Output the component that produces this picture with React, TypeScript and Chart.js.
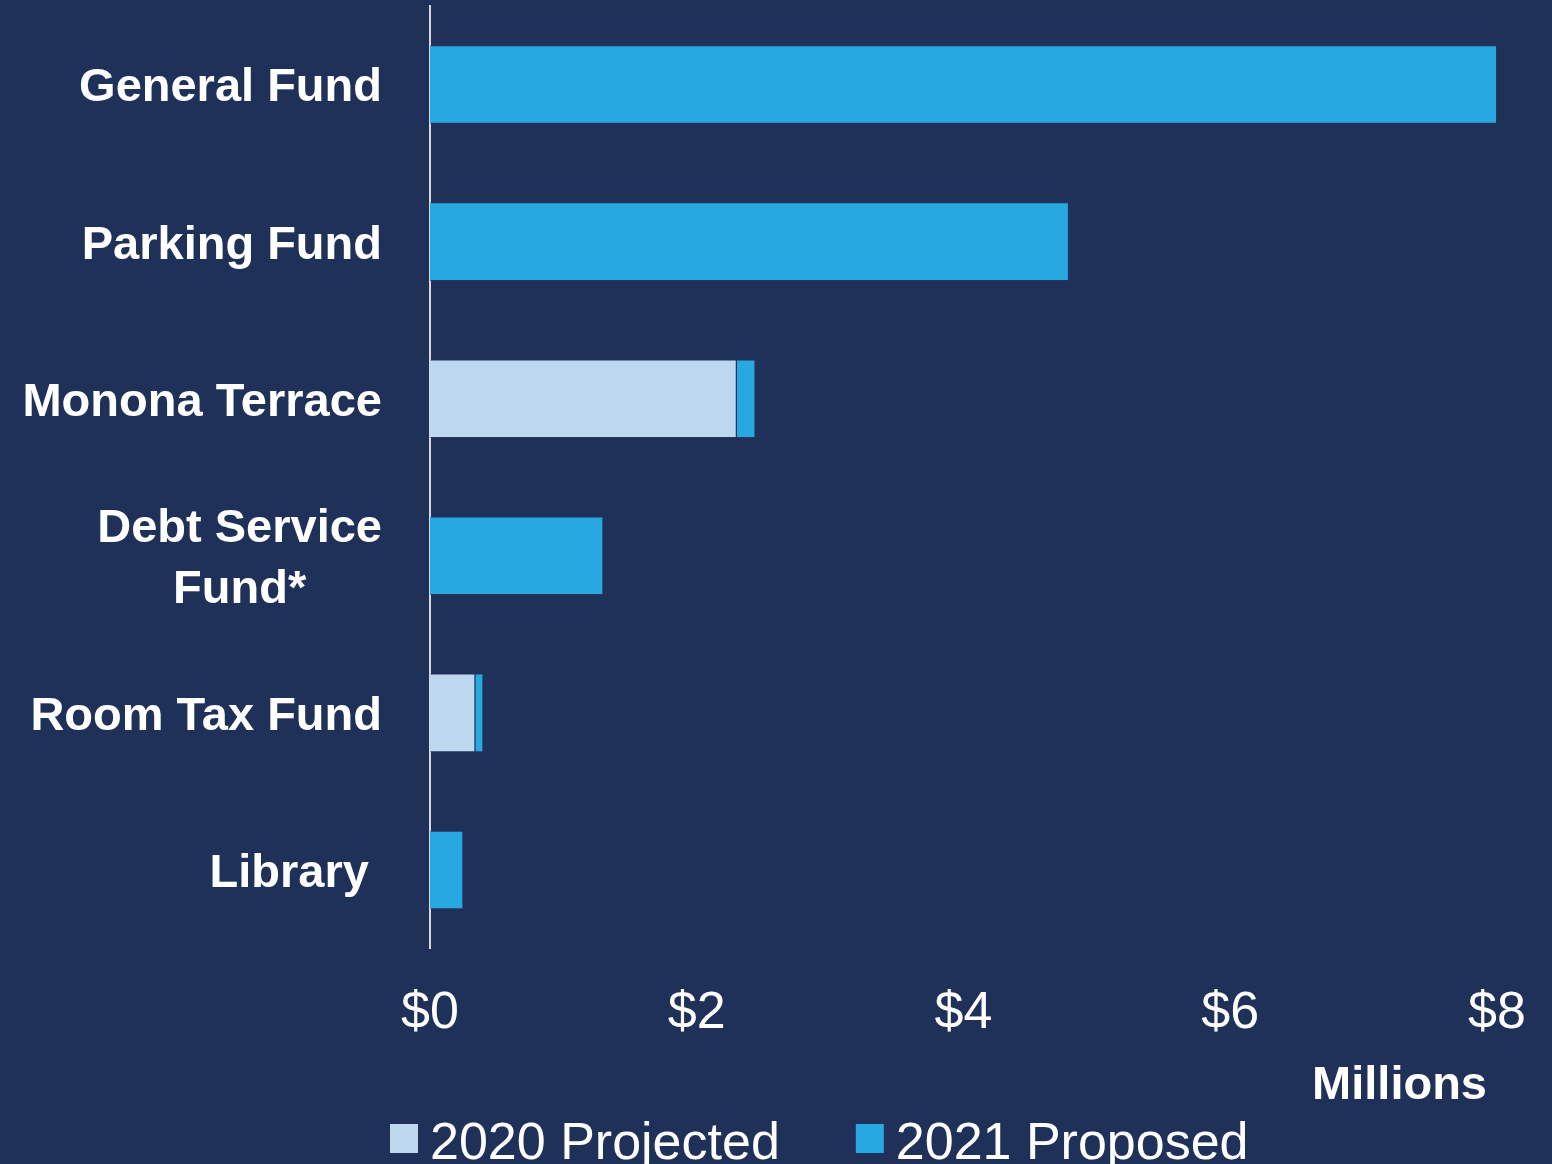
import React, { useEffect, useRef } from "react";
import { Chart, registerables } from "chart.js";

Chart.register(...registerables);

const categories: (string | string[])[] = [
  "General Fund",
  "Parking Fund",
  "Monona Terrace",
  ["Debt Service", "Fund*"],
  "Room Tax Fund",
  "Library ",
];
const projected2020 = [0, 0, 2.3, 0, 0.34, 0];
const proposed2021 = [8.0, 4.79, 0.14, 1.3, 0.06, 0.25];
const xTicks = [0, 2, 4, 6, 8];
const seriesLabels = ["2020 Projected", "2021 Proposed"];
const axisTitle = "Millions";

const BG = "#1F3059";
const LIGHT = "#BDD7EE";
const BRIGHT = "#28A8E0";

export default function App() {
  const ref = useRef<HTMLCanvasElement | null>(null);
  useEffect(() => {
    document.body.style.margin = "0";
    document.body.style.background = BG;
    const canvas = ref.current!;
    const overlay = {
      id: "overlay",
      beforeDraw(chart: any) {
        const { ctx, width, height } = chart;
        ctx.save();
        ctx.fillStyle = BG;
        ctx.fillRect(0, 0, width, height);
        ctx.restore();
      },
      afterDraw(chart: any) {
        const { ctx } = chart;
        const y = chart.scales.y;
        ctx.save();
        ctx.fillStyle = "#FFFFFF";
        ctx.font = "bold 47px 'Liberation Sans', Arial, sans-serif";
        ctx.textBaseline = "middle";
        const rightX = 382;
        categories.forEach((lab, i) => {
          const cy = y.getPixelForValue(i) + 4;
          if (Array.isArray(lab)) {
            const maxW = Math.max(...lab.map((l) => ctx.measureText(l).width));
            const cx = rightX - maxW / 2;
            const lh = 61;
            ctx.textAlign = "center";
            lab.forEach((l, k) => {
              ctx.fillText(l, cx, cy + (k - (lab.length - 1) / 2) * lh);
            });
          } else {
            ctx.textAlign = "right";
            ctx.fillText(lab, rightX, cy);
          }
        });
        // axis title
        ctx.textAlign = "right";
        ctx.textBaseline = "alphabetic";
        ctx.font = "bold 47px 'Liberation Sans', Arial, sans-serif";
        ctx.fillText(axisTitle, 1487, 1099);
        // legend
        ctx.font = "52px 'Liberation Sans', Arial, sans-serif";
        const colors = [LIGHT, BRIGHT];
        let x = 390;
        seriesLabels.forEach((s, i) => {
          ctx.fillStyle = colors[i];
          ctx.fillRect(x, 1124, 28, 29);
          ctx.fillStyle = "#FFFFFF";
          ctx.textAlign = "left";
          ctx.fillText(s, x + 40, 1159);
          x = x + 40 + ctx.measureText(s).width + 76;
        });
        ctx.restore();
      },
    };
    const chart = new Chart(canvas, {
      type: "bar",
      data: {
        labels: categories as any,
        datasets: [
          {
            label: seriesLabels[0],
            data: projected2020,
            backgroundColor: LIGHT,
            borderColor: "rgba(40,60,100,0.6)",
            borderWidth: 1,
            barPercentage: 0.5,
            categoryPercentage: 1,
          },
          {
            label: seriesLabels[1],
            data: proposed2021,
            backgroundColor: BRIGHT,
            borderColor: "rgba(40,60,100,0.6)",
            borderWidth: 1,
            barPercentage: 0.5,
            categoryPercentage: 1,
          },
        ],
      },
      options: {
        indexAxis: "y",
        animation: false,
        responsive: false,
        maintainAspectRatio: false,
        layout: { padding: { top: 6, right: 55, left: 0, bottom: 0 } },
        plugins: { legend: { display: false }, tooltip: { enabled: false } },
        scales: {
          x: {
            stacked: true,
            min: 0,
            max: 8,
            afterBuildTicks: (scale: any) => {
              scale.ticks = xTicks.map((v) => ({ value: v }));
            },
            afterFit: (scale: any) => {
              scale.height = 215.5;
              scale.paddingRight = 0;
            },
            grid: { display: false, drawTicks: false },
            border: { display: false },
            ticks: {
              color: "#FFFFFF",
              padding: 34,
              maxRotation: 0,
              font: { family: "'Liberation Sans', Arial, sans-serif", size: 52 },
              callback: (v: any) => "$" + v,
            },
          },
          y: {
            stacked: true,
            afterFit: (scale: any) => {
              scale.width = 430;
            },
            grid: { display: false, drawTicks: false },
            border: { display: true, color: "#D9D9D9", width: 2 },
            ticks: { display: false },
          },
        },
      },
      plugins: [overlay],
    } as any);
    return () => chart.destroy();
  }, []);
  return (
    <div style={{ width: 1552, height: 1164, background: BG }}>
      <canvas ref={ref} width={1552} height={1164} style={{ display: "block" }} />
    </div>
  );
}
